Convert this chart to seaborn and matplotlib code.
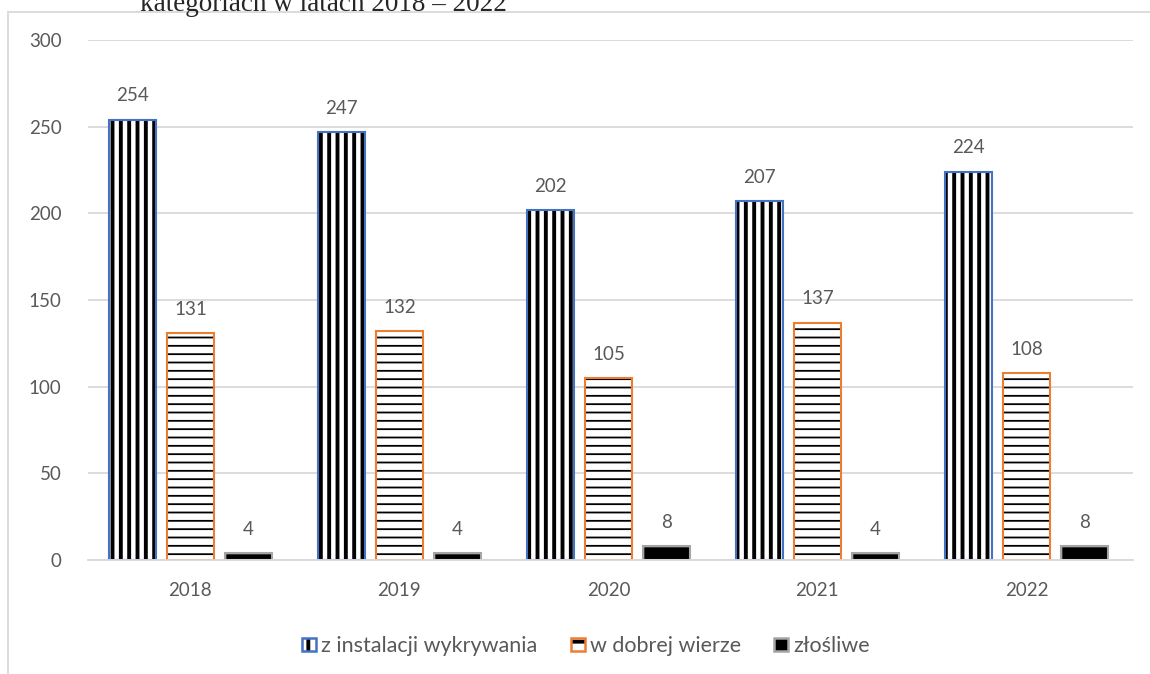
#!/usr/bin/env python3
"""
Bar chart: incidents by category, 2018-2022.
"""

import matplotlib
matplotlib.use('Agg')
import pandas as pd
import matplotlib.pyplot as plt
import seaborn as sns
from matplotlib.patches import Rectangle, Patch
from matplotlib.legend_handler import HandlerTuple

# Data
years = ['2018', '2019', '2020', '2021', '2022']
categories = ['z instalacji wykrywania', 'w dobrej wierze', 'złośliwe']
z_instalacji = [254, 247, 202, 207, 224]
w_dobrej_wierze = [131, 132, 105, 137, 108]
zlosliwe = [4, 4, 8, 4, 8]
series = [z_instalacji, w_dobrej_wierze, zlosliwe]

df = pd.DataFrame({
    'rok': years * 3,
    'kategoria': [c for c in categories for _ in years],
    'liczba': z_instalacji + w_dobrej_wierze + zlosliwe,
})

# Style
sns.set_style('white')
plt.rcParams['font.family'] = ['Lato', 'DejaVu Sans']
plt.rcParams['hatch.linewidth'] = 2.8
grey_txt = '#595959'
grid_col = '#D9D9D9'
edge_cols = ['#4472C4', '#ED7D31', '#A5A5A5']
hatches = ['||', '--', None]
hatch_lw = [2.8, 1.3, None]

fig = plt.figure(figsize=(11.5, 6.74), dpi=100)
ax = fig.add_axes([88 / 1150, 1 - 560 / 674, 1045 / 1150, 520 / 674])

sns.barplot(
    data=df, x='rok', y='liczba', hue='kategoria',
    order=years, hue_order=categories,
    palette=['white', 'white', 'black'], saturation=1,
    width=0.8325, gap=0.194, legend=False, ax=ax,
)

for i, cont in enumerate(ax.containers):
    for p in cont.patches:
        if hatches[i]:
            p.set_hatch(hatches[i])
            p.set_edgecolor('black')
            p.set_linewidth(0)
            if hasattr(p, 'set_hatch_linewidth'):
                p.set_hatch_linewidth(hatch_lw[i])
        ax.add_patch(Rectangle(
            (p.get_x(), p.get_y()), p.get_width(), p.get_height(),
            fill=False, edgecolor=edge_cols[i], linewidth=1.5,
            zorder=p.get_zorder() + 0.1,
        ))
    ax.bar_label(cont, labels=[str(v) for v in series[i]], padding=11,
                 color=grey_txt, fontsize=13.5)

ax.set_ylim(0, 300)
ax.set_xlim(-0.49, 4.51)
ax.set_yticks(range(0, 301, 50))
ax.yaxis.grid(True, color=grid_col, linewidth=1.3)
ax.set_axisbelow(True)
for s in ['top', 'right', 'left']:
    ax.spines[s].set_visible(False)
ax.spines['bottom'].set_color(grid_col)
ax.spines['bottom'].set_linewidth(1.3)
ax.tick_params(axis='both', length=0, labelcolor=grey_txt, labelsize=13.5)
ax.tick_params(axis='x', pad=16)
ax.tick_params(axis='y', pad=19)
ax.set_xlabel('')
ax.set_ylabel('')

# Legend
handles = []
for i in range(3):
    if hatches[i]:
        hp = Patch(facecolor='white', edgecolor='black', hatch=hatches[i][0], linewidth=0)
        ep = Patch(facecolor='none', edgecolor=edge_cols[i], linewidth=1.8)
        handles.append((hp, ep))
    else:
        handles.append(Patch(facecolor='black', edgecolor=edge_cols[i], linewidth=1.8))
fig.legend(handles, categories, loc='center', bbox_to_anchor=(586 / 1150, 1 - 646 / 674),
           ncol=3, frameon=False, fontsize=15.5, labelcolor=grey_txt,
           handlelength=0.65, handleheight=0.6, handletextpad=0.25,
           columnspacing=1.55, handler_map={tuple: HandlerTuple(ndivide=1, pad=0)})

# Outer frame and cut-off heading
fig.add_artist(Rectangle((8 / 1150, -0.1), 2, (674 - 12) / 674 + 0.1,
                         transform=fig.transFigure, fill=False,
                         edgecolor=grid_col, linewidth=1.3))
fig.text(140 / 1150, 1 - 11 / 674, 'kategoriach w latach 2018 – 2022',
         family='Liberation Serif', fontsize=19.5, va='baseline')

plt.savefig('out.png', dpi=100)
plt.close()
